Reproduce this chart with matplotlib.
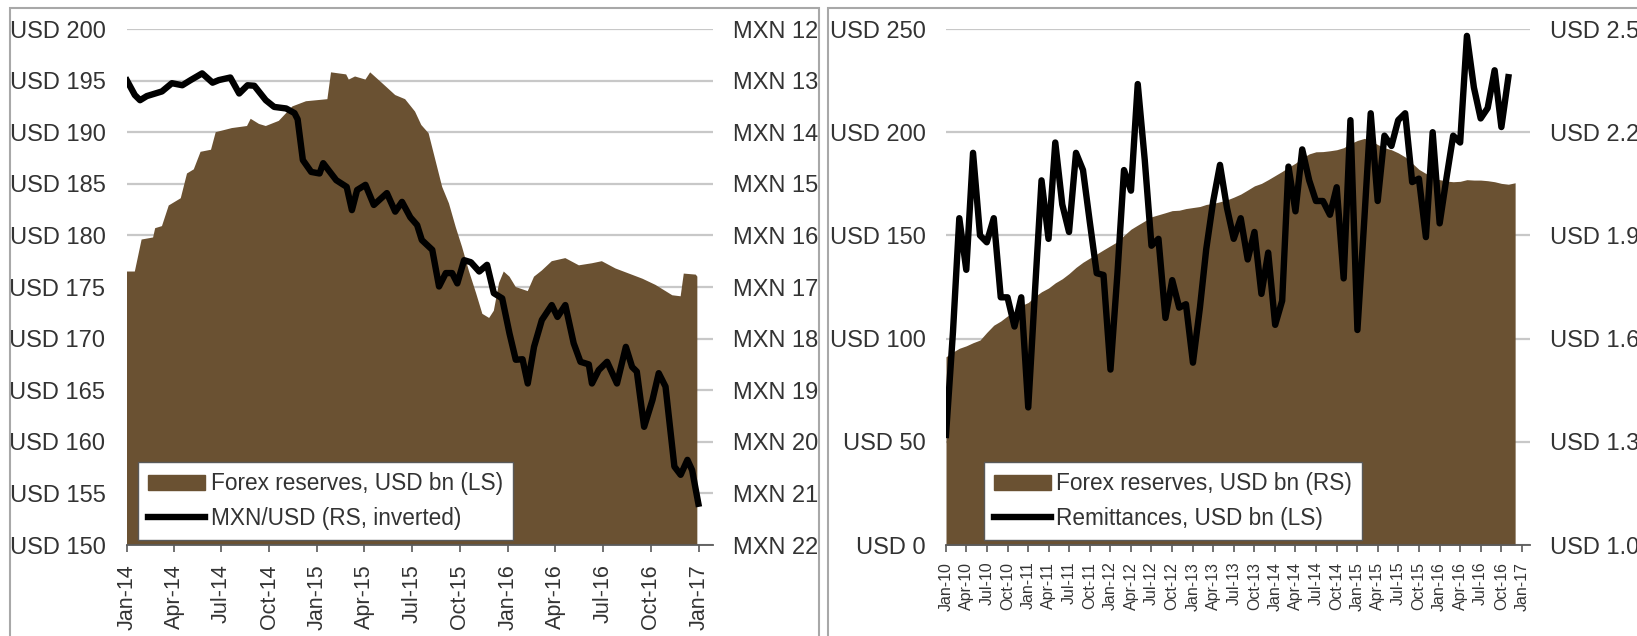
import matplotlib
matplotlib.use("Agg")
import matplotlib.pyplot as plt
import matplotlib.dates as mdates
from matplotlib.patches import Patch, Rectangle
from matplotlib.lines import Line2D
import pandas as pd

plt.rcParams['font.family'] = ['Liberation Sans', 'DejaVu Sans']

# ---------------- Left panel data ----------------
fx_left_dates = ['2014-01-01', '2014-01-16', '2014-01-29', '2014-02-20', '2014-02-24', '2014-03-09',
                 '2014-03-22', '2014-04-14', '2014-04-26', '2014-05-09', '2014-05-22', '2014-06-11',
                 '2014-06-20', '2014-07-21', '2014-08-19', '2014-08-26', '2014-09-11', '2014-09-24',
                 '2014-10-19', '2014-11-14', '2014-12-10', '2015-01-20', '2015-01-27', '2015-02-25',
                 '2015-03-02', '2015-03-14', '2015-04-03', '2015-04-12', '2015-05-04', '2015-05-30',
                 '2015-06-18', '2015-07-07', '2015-07-19', '2015-08-02', '2015-08-15', '2015-08-28',
                 '2015-09-10', '2015-09-23', '2015-10-05', '2015-10-18', '2015-11-01', '2015-11-13',
                 '2015-11-26', '2015-12-05', '2015-12-15', '2015-12-24', '2016-01-04', '2016-01-16',
                 '2016-02-08', '2016-02-20', '2016-03-06', '2016-03-25', '2016-04-20', '2016-05-16',
                 '2016-06-10', '2016-06-29', '2016-07-25', '2016-08-20', '2016-09-15', '2016-10-10',
                 '2016-11-11', '2016-11-27', '2016-12-03', '2016-12-26', '2016-12-29']
fx_left_values = [176.5, 176.5, 179.6, 179.8, 180.7, 180.9, 182.9, 183.6, 186.0, 186.4, 188.1, 188.3,
                  190.0, 190.4, 190.6, 191.3, 190.8, 190.6, 191.1, 192.5, 193.0, 193.2, 195.8, 195.6,
                  195.1, 195.4, 195.1, 195.8, 194.8, 193.6, 193.2, 192.0, 190.7, 189.9, 187.3, 184.7,
                  183.1, 180.8, 178.9, 176.6, 174.4, 172.4, 172.0, 172.7, 175.4, 176.5, 176.0, 175.0,
                  174.6, 176.0, 176.6, 177.5, 177.8, 177.1, 177.3, 177.5, 176.8, 176.3, 175.8, 175.2,
                  174.2, 174.1, 176.3, 176.2, 176.0]

mxn_dates = ['2014-01-01', '2014-01-16', '2014-01-26', '2014-02-08', '2014-03-09', '2014-03-28',
             '2014-04-17', '2014-05-03', '2014-05-25', '2014-06-14', '2014-06-26', '2014-07-18',
             '2014-08-04', '2014-08-20', '2014-09-02', '2014-09-24', '2014-10-10', '2014-11-02',
             '2014-11-18', '2014-11-24', '2014-12-04', '2014-12-20', '2015-01-05', '2015-01-12',
             '2015-02-06', '2015-02-26', '2015-03-08', '2015-03-18', '2015-04-03', '2015-04-19',
             '2015-05-14', '2015-05-30', '2015-06-12', '2015-06-28', '2015-07-11', '2015-07-20',
             '2015-08-09', '2015-08-22', '2015-09-04', '2015-09-16', '2015-09-26', '2015-10-09',
             '2015-10-22', '2015-11-07', '2015-11-22', '2015-12-05', '2015-12-21', '2016-01-04',
             '2016-01-16', '2016-01-29', '2016-02-08', '2016-02-20', '2016-03-06', '2016-03-25',
             '2016-04-05', '2016-04-20', '2016-05-06', '2016-05-19', '2016-06-04', '2016-06-10',
             '2016-06-23', '2016-07-09', '2016-07-28', '2016-08-14', '2016-08-26', '2016-09-04',
             '2016-09-18', '2016-10-04', '2016-10-16', '2016-10-29', '2016-11-15', '2016-11-27',
             '2016-12-10', '2016-12-19', '2016-12-31']
mxn_values = [13.00, 13.28, 13.38, 13.30, 13.21, 13.05, 13.09, 12.99, 12.86, 13.04, 12.99, 12.94,
              13.25, 13.09, 13.10, 13.38, 13.51, 13.54, 13.63, 13.75, 14.54, 14.77, 14.80, 14.60,
              14.93, 15.06, 15.51, 15.12, 15.02, 15.41, 15.18, 15.54, 15.35, 15.65, 15.80, 16.09,
              16.28, 16.99, 16.73, 16.73, 16.93, 16.48, 16.52, 16.70, 16.57, 17.12, 17.22, 17.90,
              18.41, 18.40, 18.87, 18.16, 17.64, 17.35, 17.58, 17.35, 18.09, 18.45, 18.50, 18.87,
              18.61, 18.45, 18.87, 18.16, 18.55, 18.64, 19.71, 19.19, 18.67, 18.93, 20.48, 20.64,
              20.35, 20.55, 21.20]

left_usd_ticks = [150, 155, 160, 165, 170, 175, 180, 185, 190, 195, 200]
left_mxn_ticks = [12, 13, 14, 15, 16, 17, 18, 19, 20, 21, 22]

# ---------------- Right panel data ----------------
fx_right_start = '2010-01-01'
fx_right_values = [91.2, 93.5, 95.3, 96.5, 98.0, 99.3, 103.0, 106.5, 108.5, 111.0, 113.0, 116.0,
                   117.5, 120.5, 122.7, 124.5, 127.0, 129.0, 131.5, 134.5, 137.0, 139.0, 141.0, 143.0,
                   145.0, 147.0, 150.0, 153.0, 155.0, 157.0, 159.0, 160.0, 161.0, 162.0, 162.2, 163.0,
                   163.5, 164.0, 165.0, 165.5, 166.3, 167.2, 168.5, 170.0, 172.0, 174.0, 175.2, 177.0,
                   179.0, 181.0, 183.0, 185.0, 187.5, 189.5, 190.5, 190.6, 191.0, 191.5, 192.5, 194.5,
                   196.0, 197.0, 196.0, 194.0, 192.5, 191.5, 190.0, 188.0, 185.0, 182.0, 180.0, 178.0,
                   177.0, 176.3, 176.0, 176.2, 177.0, 176.8, 176.8, 176.5, 176.0, 175.2, 174.8, 175.5]
remit_values = [1.32, 1.62, 1.95, 1.80, 2.14, 1.90, 1.88, 1.95, 1.72, 1.72, 1.635, 1.72,
                1.40, 1.75, 2.06, 1.89, 2.17, 1.99, 1.91, 2.14, 2.09, 1.94, 1.79, 1.785,
                1.51, 1.79, 2.09, 2.03, 2.34, 2.12, 1.87, 1.89, 1.66, 1.77, 1.69, 1.70,
                1.53, 1.69, 1.86, 2.00, 2.105, 1.98, 1.89, 1.95, 1.83, 1.91, 1.73, 1.85,
                1.64, 1.71, 2.10, 1.97, 2.15, 2.06, 2.00, 2.00, 1.96, 2.04, 1.775, 2.235,
                1.625, 1.95, 2.255, 2.00, 2.19, 2.16, 2.235, 2.255, 2.055, 2.065, 1.895, 2.20,
                1.935, 2.07, 2.19, 2.17, 2.48, 2.33, 2.24, 2.27, 2.38, 2.215, 2.36]
right_usd_ticks = [0, 50, 100, 150, 200, 250]
right_rem_ticks = [1.0, 1.3, 1.6, 1.9, 2.2, 2.5]

# ---------------- Styling ----------------
BROWN = '#6a5132'
GRID = '#c8c8c8'
AXCOL = '#5a5a5a'
TXT = '#333333'
FS_Y = 17
FS_LEG = 16.3
FS_X = 15.5
W, H = 1637, 636

fig = plt.figure(figsize=(W / 100, H / 100), dpi=100)

# panel frames
for x0, x1 in [(10, 819), (828, 1645)]:
    fig.add_artist(Rectangle((x0 / W, -10 / H), (x1 - x0) / W, (H + 10 - 8) / H,
                             transform=fig.transFigure, fill=False, edgecolor='#a8a8a8', lw=1.5))


def style_axes(ax, ax2, lpad, rpad):
    for s in ['left', 'right', 'top']:
        ax.spines[s].set_visible(False)
        ax2.spines[s].set_visible(False)
    ax2.spines['bottom'].set_visible(False)
    ax.spines['bottom'].set_color(AXCOL)
    ax.spines['bottom'].set_linewidth(1.3)
    ax.spines['bottom'].set_zorder(5)
    ax.yaxis.grid(True, color=GRID, lw=1.6)
    ax.set_axisbelow(True)
    ax.tick_params(axis='y', length=0, pad=lpad, labelsize=FS_Y, labelcolor=TXT)
    ax2.tick_params(axis='y', length=0, pad=rpad, labelsize=FS_Y, labelcolor=TXT)
    ax.tick_params(axis='x', length=5, width=1.2, color=AXCOL, direction='out',
                   labelrotation=90, labelcolor=TXT)


def add_legend(ax, labels, x0):
    handles = [Patch(facecolor=BROWN, edgecolor=BROWN), Line2D([], [], color='black', lw=4.6)]
    leg = ax.legend(handles, labels, loc='lower left', bbox_to_anchor=(x0, 0.0097),
                    borderaxespad=0, fontsize=FS_LEG, fancybox=False, framealpha=1,
                    edgecolor='#595959', handlelength=2.5, handletextpad=0.25,
                    labelspacing=0.5, borderpad=0.45)
    leg.get_frame().set_linewidth(1.0)
    for t in leg.get_texts():
        t.set_color(TXT)
    return leg


# ---------------- Left panel ----------------
axL = fig.add_axes([127 / W, (H - 545) / H, 586 / W, 516 / H])
axL2 = axL.twinx()
axL.fill_between(pd.to_datetime(fx_left_dates), fx_left_values, 0, color=BROWN, lw=0, zorder=2)
axL.set_ylim(150, 200)
axL.set_yticks(left_usd_ticks)
axL.set_yticklabels([f'USD {v}' for v in left_usd_ticks])
axL2.plot(pd.to_datetime(mxn_dates), mxn_values, color='black', lw=4.6, solid_joinstyle='round')
axL2.set_ylim(22, 12)
axL2.set_yticks(left_mxn_ticks)
axL2.set_yticklabels([f'MXN {v}' for v in left_mxn_ticks])
axL.set_xlim(pd.Timestamp('2014-01-01'), pd.Timestamp('2017-01-28'))
axL.xaxis.set_major_locator(mdates.MonthLocator(bymonth=[1, 4, 7, 10]))
axL.xaxis.set_major_formatter(mdates.DateFormatter('%b-%y'))
style_axes(axL, axL2, 15.5, 14.2)
axL.tick_params(axis='x', pad=9, labelsize=FS_X)
add_legend(axL2, ['Forex reserves, USD bn (LS)', 'MXN/USD (RS, inverted)'], 0.019)

# ---------------- Right panel ----------------
axR = fig.add_axes([946 / W, (H - 545) / H, 584 / W, 516 / H])
axR2 = axR.twinx()
fx_r_dates = pd.date_range(fx_right_start, periods=len(fx_right_values), freq='MS')
rem_dates = pd.date_range(fx_right_start, periods=len(remit_values), freq='MS')
axR.fill_between(fx_r_dates, fx_right_values, 0, color=BROWN, lw=0, zorder=2)
axR.set_ylim(0, 250)
axR.set_yticks(right_usd_ticks)
axR.set_yticklabels([f'USD {v}' for v in right_usd_ticks])
axR2.plot(rem_dates, remit_values, color='black', lw=4.6, solid_joinstyle='round')
axR2.set_ylim(1.0, 2.5)
axR2.set_yticks(right_rem_ticks)
axR2.set_yticklabels([f'USD {v:.1f}' for v in right_rem_ticks])
axR.set_xlim(pd.Timestamp('2010-01-01'), pd.Timestamp('2017-02-05'))
axR.xaxis.set_major_locator(mdates.MonthLocator(bymonth=[1, 4, 7, 10]))
axR.xaxis.set_major_formatter(mdates.DateFormatter('%b-%y'))
style_axes(axR, axR2, 14.5, 14.2)
axR.tick_params(axis='x', pad=7, labelsize=11.5)
add_legend(axR2, ['Forex reserves, USD bn (RS)', 'Remittances, USD bn (LS)'], 0.065)

fig.savefig('out.png', dpi=100)
